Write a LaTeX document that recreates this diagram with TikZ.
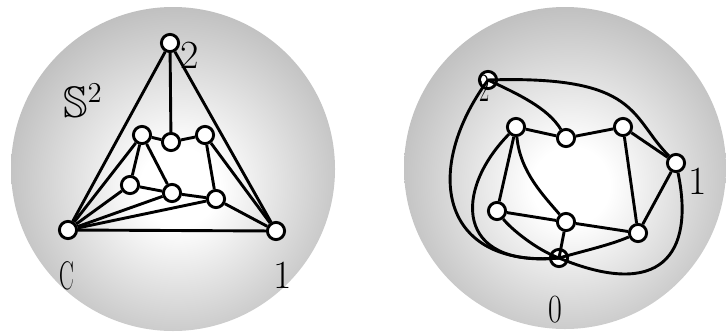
\documentclass[tikz,border=0pt]{standalone}
\usepackage{amssymb}
\pgfdeclareradialshading{sphereshade}{\pgfpoint{1bp}{-3bp}}{color(0bp)=(white); color(6bp)=(white); color(40bp)=(black!40); color(50bp)=(black!58); color(70bp)=(black!58)}
\tikzset{
  vtx/.style={circle, draw=black, fill=white, line width=1.45pt, minimum size=8.6pt, inner sep=0pt},
  edge/.style={line width=1.45pt, black},
  lbl/.style={inner sep=0pt, text=black, font=\fontsize{20}{23}\selectfont},
}
\begin{document}
\begin{tikzpicture}[x=0.5pt, y=-0.5pt]
\useasboundingbox (0,0) rectangle (726,332);
% spheres
\shade[shading=sphereshade] (173,169) circle[radius=162];
\shade[shading=sphereshade] (565,168) circle[radius=161];

% ---------- left graph ----------
\node[lbl, font=\fontsize{22}{25}\selectfont] (S2) at (83,101) {$\mathbb{S}^2$};
\node[lbl] (L2lab) at (190,55) {2};
\node[lbl] (L0lab) at (67,276) {\scalebox{0.55}[1]{C}};
\node[lbl] (L1lab) at (283,275) {1};

\node[vtx] (L2) at (170,43) {};
\node[vtx] (L0) at (68,230) {};
\node[vtx] (L1) at (276,231) {};
\node[vtx] (La) at (142,135) {};
\node[vtx] (Lb) at (171,142) {};
\node[vtx] (Lc) at (205,135) {};
\node[vtx] (Ld) at (130,185) {};
\node[vtx] (Le) at (172,193) {};
\node[vtx] (Lf) at (216,199) {};

\draw[edge] (L0) -- (L2);
\draw[edge] (L2) -- (L1);
\draw[edge] (L0) -- (L1);
\draw[edge] (L2) -- (Lb);
\draw[edge] (La) -- (Lb);
\draw[edge] (Lb) -- (Lc);
\draw[edge] (La) -- (Ld);
\draw[edge] (La) -- (Le);
\draw[edge] (Lc) -- (Lf);
\draw[edge] (Ld) -- (Le);
\draw[edge] (Le) -- (Lf);
\draw[edge] (L0) -- (La);
\draw[edge] (L0) -- (Ld);
\draw[edge] (L0) -- (Le);
\draw[edge] (L0) -- (Lf);
\draw[edge] (L1) -- (Lc);
\draw[edge] (L1) -- (Lf);

% ---------- right graph ----------
\node[vtx] (R2) at (488,80) {};
\node[vtx] (R1) at (676,163) {};
\node[vtx] (R0) at (559,258) {};
\node[vtx] (Ra) at (516,127) {};
\node[vtx] (Rb) at (566,138) {};
\node[vtx] (Rc) at (623,127) {};
\node[vtx] (Rd) at (497,211) {};
\node[vtx] (Re) at (566,222) {};
\node[vtx] (Rf) at (638,233) {};

\draw[edge] (Ra) -- (Rb);
\draw[edge] (Rb) -- (Rc);
\draw[edge] (Ra) -- (Rd);
\draw[edge] (Rc) -- (Rf);
\draw[edge] (Rd) -- (Re);
\draw[edge] (Re) -- (Rf);
\draw[edge] (Re) -- (R0.center);
\draw[edge] (Rf) -- (R1);
\draw[edge] (Rc) -- (R1);
\draw[edge] (Ra) .. controls +(4,45) and +(-22,-26) .. (Re);
\draw[edge] (R2.center) .. controls +(30,14) and +(-18,-30) .. (Rb);
\draw[edge] (R2.center) .. controls +(152,-5) and +(-46,-46) .. (R1);
\draw[edge] (R2.center) .. controls +(-66,90) and +(-119,10) .. (R0.center);
\draw[edge] (Ra) .. controls +(-62,63) and +(-105,10) .. (R0.center);
\draw[edge] (Rd) .. controls +(14,18) and +(-22,-8) .. (R0.center);
\draw[edge] (R0.center) .. controls +(28,-8) and +(-28,12) .. (Rf);
\draw[edge] (R0.center) .. controls +(101,42) and +(19,92) .. (R1);

\node[lbl] (R2lab) at (485,88) {\scalebox{0.55}[1]{2}};
\node[lbl] (R1lab) at (698,181) {1};
\node[lbl] (R0lab) at (555,310) {\scalebox{0.75}[1]{0}};
\end{tikzpicture}
\end{document}
